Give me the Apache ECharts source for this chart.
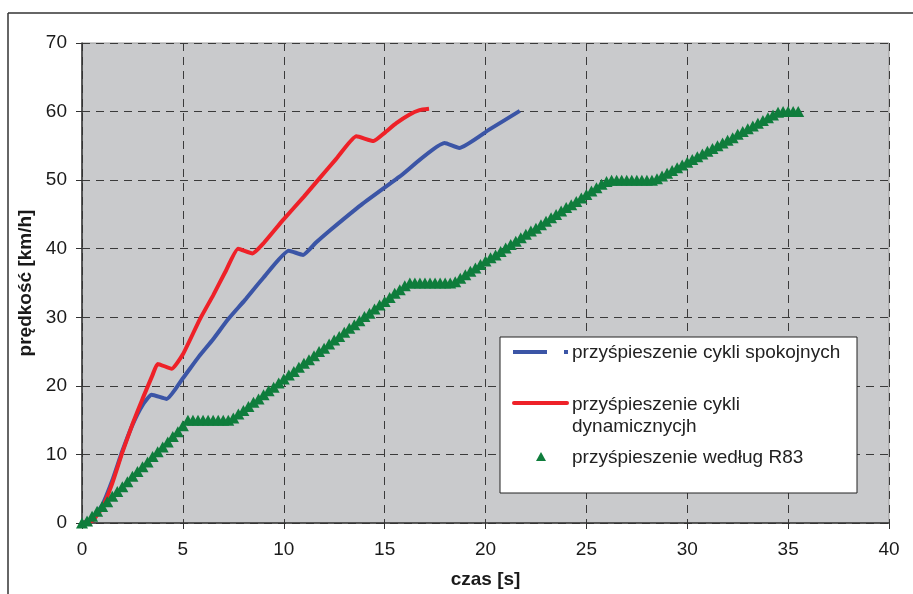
<!DOCTYPE html>
<html>
<head>
<meta charset="utf-8">
<script src="https://cdn.jsdelivr.net/npm/echarts@6/dist/echarts.min.js"></script>
<style>
  html, body { margin: 0; padding: 0; background: #fff; }
  #chart { width: 913px; height: 594px; }
</style>
</head>
<body>
<div id="chart"></div>
<script>
// series names (legend)
var names = ['przyśpieszenie cykli spokojnych', 'przyśpieszenie cykli\ndynamicznycjh', 'przyśpieszenie według R83'];

// [czas s, prędkość km/h]
var calm = [[0,0],[0.5,0.6],[1,2.6],[1.5,6.2],[2,10.5],[2.5,14.3],[3,17.2],[3.45,18.7],[4.2,18.1],[5,21.1],[5.8,24.3],[6.5,26.8],[7.24,29.7],[8.07,32.5],[9,35.8],[10.25,39.7],[10.96,39.1],[11.6,40.9],[12.3,42.7],[13.84,46.4],[15.74,50.5],[17.97,55.4],[18.7,54.7],[20.2,57.4],[21.7,60.1]];

var dynamic = [[0,0],[0.5,0.3],[1,2.2],[1.5,5.8],[2,10.3],[2.5,14.4],[3,18.1],[3.5,21.6],[3.75,23.2],[4.45,22.5],[5,24.6],[5.84,29.7],[6.5,33.2],[7.1,36.6],[7.74,40],[8.45,39.3],[9,40.8],[9.97,44.2],[11,47.6],[11.78,50.3],[12.6,53.1],[13.6,56.4],[14.45,55.7],[15,56.9],[15.58,58.3],[16.2,59.5],[16.73,60.2],[17.2,60.4]];

var r83 = [[0,0],[0.25,0.3],[0.5,1.0],[0.75,1.7],[1,2.4],[1.25,3.1],[1.5,3.9],[1.75,4.6],[2,5.3],[2.25,6.0],[2.5,6.8],[2.75,7.5],[3,8.2],[3.25,8.9],[3.5,9.7],[3.75,10.4],[4,11.1],[4.25,11.8],[4.5,12.6],[4.75,13.3],[5,14.2],[5.25,15],
  [5.5,15],[5.75,15],[6,15],[6.25,15],[6.5,15],[6.75,15],[7,15],[7.25,15],
  [7.5,15.3],[7.75,15.9],[8,16.4],[8.25,17.0],[8.5,17.6],[8.75,18.1],[9,18.7],[9.25,19.3],[9.5,19.8],[9.75,20.4],[10,21.0],[10.25,21.6],[10.5,22.1],[10.75,22.7],[11,23.3],[11.25,23.8],[11.5,24.4],[11.75,25.0],[12,25.5],[12.25,26.1],[12.5,26.7],[12.75,27.2],[13,27.8],[13.25,28.4],[13.5,28.9],[13.75,29.5],[14,30.1],[14.25,30.6],[14.5,31.2],[14.75,31.8],[15,32.3],[15.25,32.9],[15.5,33.5],[15.75,34.0],[16,34.6],[16.25,35],
  [16.5,35],[16.75,35],[17,35],[17.25,35],[17.5,35],[17.75,35],[18,35],[18.25,35],
  [18.5,35.2],[18.75,35.7],[19,36.2],[19.25,36.7],[19.5,37.2],[19.75,37.7],[20,38.2],[20.25,38.7],[20.5,39.1],[20.75,39.6],[21,40.1],[21.25,40.6],[21.5,41.1],[21.75,41.6],[22,42.1],[22.25,42.6],[22.5,43.0],[22.75,43.5],[23,44.0],[23.25,44.5],[23.5,45.0],[23.75,45.5],[24,46.0],[24.25,46.4],[24.5,46.9],[24.75,47.4],[25,47.9],[25.25,48.4],[25.5,48.9],[25.75,49.4],[26,49.8],[26.25,50],
  [26.5,50],[26.75,50],[27,50],[27.25,50],[27.5,50],[27.75,50],[28,50],[28.25,50],
  [28.5,50.2],[28.75,50.6],[29,51.0],[29.25,51.4],[29.5,51.8],[29.75,52.2],[30,52.6],[30.25,53.0],[30.5,53.4],[30.75,53.8],[31,54.2],[31.25,54.6],[31.5,55.0],[31.75,55.4],[32,55.8],[32.25,56.2],[32.5,56.7],[32.75,57.1],[33,57.5],[33.25,57.9],[33.5,58.3],[33.75,58.7],[34,59.1],[34.25,59.5],[34.5,59.9],[34.75,60],[35,60],[35.25,60],[35.5,60]];

var colors = ['#3b55a6', '#ee2128', '#0f7d3c'];
var font = '"Liberation Sans", Arial, sans-serif';

var myChart = echarts.init(document.getElementById('chart'));
var option = {
    animation: false,
    backgroundColor: '#fff',
    grid: {
        left: 82,
        right: 24,
        top: 43,
        bottom: 71,
        show: true,
        backgroundColor: '#c9cacc',
        borderColor: '#9a9a9a',
        borderWidth: 1
    },
    xAxis: {
        type: 'value',
        min: 0,
        max: 40,
        interval: 5,
        name: 'czas [s]',
        nameLocation: 'middle',
        nameGap: 47,
        nameTextStyle: { fontFamily: font, fontSize: 19, fontWeight: 'bold', color: '#1a1a1a' },
        axisLine: { lineStyle: { color: '#333', width: 1.5 } },
        axisTick: { show: true, length: 6, lineStyle: { color: '#333' } },
        axisLabel: { margin: 17, fontFamily: font, fontSize: 19, color: '#1a1a1a' },
        splitLine: { show: true, lineStyle: { color: '#3a3a3a', type: [8, 6], width: 1 } }
    },
    yAxis: {
        type: 'value',
        min: 0,
        max: 70,
        interval: 10,
        name: 'prędkość [km/h]',
        nameLocation: 'middle',
        nameGap: 45,
        nameTextStyle: { fontFamily: font, fontSize: 19, fontWeight: 'bold', color: '#1a1a1a' },
        axisLine: { show: true, lineStyle: { color: '#333', width: 1.5 } },
        axisTick: { show: true, length: 6, lineStyle: { color: '#333' } },
        axisLabel: { margin: 15, fontFamily: font, fontSize: 19, color: '#1a1a1a' },
        splitLine: { show: true, lineStyle: { color: '#3a3a3a', type: [8, 6], width: 1 } }
    },
    series: [
        {
            name: names[0],
            type: 'line',
            data: calm,
            showSymbol: false,
            smooth: 0.15,
            lineStyle: { color: colors[0], width: 4 },
            z: 3
        },
        {
            name: names[1],
            type: 'line',
            data: dynamic,
            showSymbol: false,
            smooth: 0.15,
            lineStyle: { color: colors[1], width: 4 },
            z: 4
        },
        {
            name: names[2],
            type: 'scatter',
            data: r83,
            symbol: 'triangle',
            symbolSize: [12, 11],
            itemStyle: { color: colors[2], opacity: 1 },
            z: 5
        }
    ],
    graphic: [
        // outer frame
        { type: 'line', shape: { x1: 8, y1: 13, x2: 913, y2: 13 }, style: { stroke: '#333', lineWidth: 1.5 } },
        { type: 'line', shape: { x1: 8, y1: 13, x2: 8, y2: 594 }, style: { stroke: '#333', lineWidth: 1.5 } },
        // legend box
        { type: 'rect', z: 10, shape: { x: 500, y: 337, width: 357, height: 156 }, style: { fill: '#fff', stroke: '#222', lineWidth: 1 } },
        { type: 'line', z: 11, shape: { x1: 513, y1: 352, x2: 568, y2: 352 }, style: { stroke: colors[0], lineWidth: 4, lineDash: [34, 17] } },
        { type: 'line', z: 11, shape: { x1: 514, y1: 403, x2: 567, y2: 403 }, style: { stroke: colors[1], lineWidth: 4, lineCap: 'round' } },
        { type: 'polygon', z: 11, shape: { points: [[541, 452], [546, 461], [536, 461]] }, style: { fill: colors[2] } },
        { type: 'text', z: 11, x: 572, y: 353, style: { text: names[0], font: '19px ' + font, fill: '#222', textVerticalAlign: 'middle' } },
        { type: 'text', z: 11, x: 572, y: 394, style: { text: names[1], font: '19px ' + font, fill: '#222', textVerticalAlign: 'top', lineHeight: 22 } },
        { type: 'text', z: 11, x: 572, y: 458, style: { text: names[2], font: '19px ' + font, fill: '#222', textVerticalAlign: 'middle' } }
    ]
};
myChart.setOption(option);
</script>
</body>
</html>
